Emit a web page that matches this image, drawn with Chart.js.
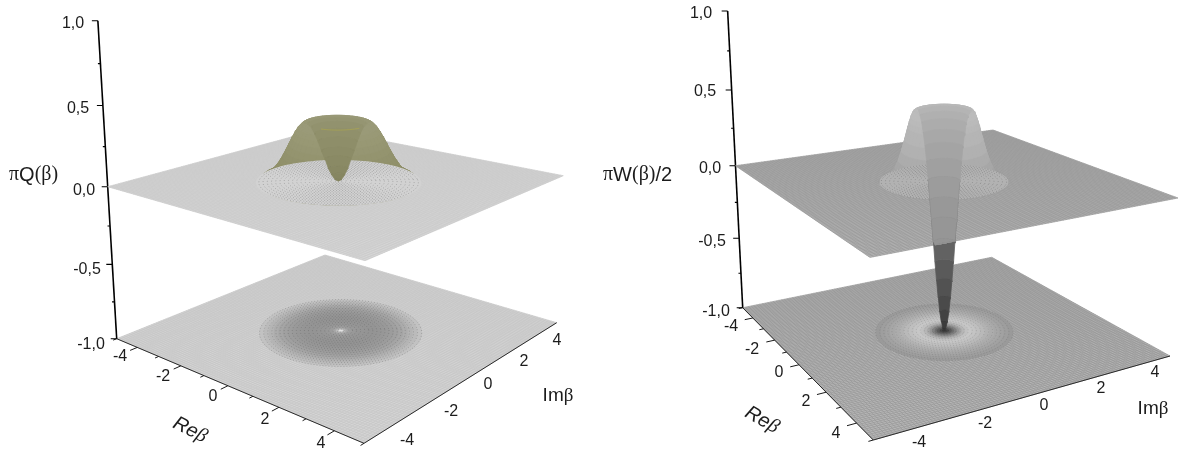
<!DOCTYPE html>
<html><head><meta charset="utf-8">
<style>html,body{margin:0;padding:0;background:#fff;overflow:hidden}canvas{position:absolute;top:0}</style>
<script src="https://cdn.jsdelivr.net/npm/chart.js@4"></script>
</head><body>
<canvas id="left" width="590" height="454" style="left:0"></canvas>
<canvas id="right" width="589" height="454" style="left:590px"></canvas>
<script>
// ---- data ----
const reTicks = [-5,-4,-3,-2,-1,0,1,2,3,4,5];
const imTicks = [-5,-4,-3,-2,-1,0,1,2,3,4,5];
const zTicks = [-1,-0.75,-0.5,-0.25,0,0.25,0.5,0.75,1];
const zLabels = ['-1,0','-0,5','0,0','0,5','1,0'];
const axisLabels = ['-4','-2','0','2','4'];

const qRadius = [0,0.1,0.2,0.3,0.4,0.5,0.6,0.7,0.8,0.9,1,1.1,1.2,1.3,1.4,1.5,1.6,1.7,1.8,1.9,2,2.1,2.2,2.3,2.4,2.5];
const qValue  = [0,0.01,0.04,0.08,0.14,0.19,0.25,0.3,0.34,0.36,0.37,0.36,0.34,0.31,0.275,0.237,0.198,0.161,0.127,0.098,0.073,0.054,0.038,0.027,0.018,0];
const qFloorRadius = [2.6,2.45,2.3,2.15,2,1.85,1.7,1.55,1.4,1.25,1.1,0.95,0.8,0.65,0.5,0.38,0.26,0.16,0.08];

const wRadius = [0,0.05,0.1,0.15,0.2,0.25,0.3,0.35,0.4,0.45,0.5,0.55,0.6,0.65,0.7,0.75,0.8,0.85,0.9,0.95,1,1.05,1.1,1.2,1.3,1.4,1.5,1.6,1.7,1.8,1.9,2];
const wValue  = [-1,-0.985,-0.94,-0.87,-0.775,-0.66,-0.535,-0.4,-0.26,-0.13,0,0.115,0.215,0.295,0.36,0.405,0.435,0.445,0.443,0.43,0.405,0.375,0.34,0.265,0.195,0.135,0.09,0.055,0.033,0.019,0.01,0];
const wFloorRadius = [2.2,2.05,1.9,1.75,1.6,1.45,1.3,1.15,1,0.88,0.76,0.66,0.56,0.48,0.4,0.32,0.24,0.16,0.08];

// ---- styles ----
const qBandColor = ['#84845f','#868661','#888863','#8a8a65','#8c8c67','#8e8e69','#90906b','#92926e','#959572','#989876',
  '#9a9a79','#9a9a78','#999976','#989874','#969672','#94946f','#92926d','#91916b','#90906a','#8f8f69','#8e8e68','#8d8d67','#8c8c66','#8b8b65','#8a8a64'];
const wBandGray = [148,148,148,148,148,148,148,150,152,156,160,164,168,172,176,180,184,187,188,188,186,184,181,177,172,167,163,159,156,154,152];
const wTubeGray = [54,60,66,74,82,90,98,104,108,112];
const qFloorGray = [194,187,180,172,165,160,156,153,151,149,148,148,149,150,152,156,166,186,226];
const wFloorGray = [154,158,162,167,172,178,185,191,196,199,193,182,168,150,130,110,90,72,56];

const views = {
  left: {
    xMin:0, xMax:590,
    floor:[[116.7,338.7],[364,443.3],[556.7,322.7],[325,255]],
    upper:[[107.7,186.7],[365,260.7],[563.3,175.7],[321,129]],
    persp:0.044,
    planeUpper:'#d8d8d8', meshUpper:'#cacaca',
    planeFloor:'#d4d4d4', meshFloor:'#c6c6c6',
    discFill:'#d2d2d2', discRadius:2.55, speckle:'rgba(90,90,90,0.45)',
    floorSpeckle:'rgba(70,70,70,0.4)',
    radius:qRadius, value:qValue, bandColor:i=>qBandColor[i],
    floorRadius:qFloorRadius, floorGray:qFloorGray,
    crestArc:'rgba(178,172,70,0.55)', tubeGray:null,
    zPos:[[91,345],[87,270],[84,191],[78,109],[73,24]],
    rePos:[[120,357],[163,377],[213,397],[265,420],[321,444]],
    imPos:[[407,441],[451,412],[488,385],[524,362],[557,341]],
    reTitle:[190,430,27], imTitle:[558,396],
    zTitle:{x:9,y:175,runs:[['π','serif'],['Q','sans'],['(','serif'],['β','serif'],[')','serif']]}
  },
  right: {
    xMin:590, xMax:1179,
    floor:[[742.7,307.7],[873.3,440],[1170,356],[991.7,257.3]],
    upper:[[735.5,165.7],[870,257.4],[1178,198],[993,130]],
    persp:0.043,
    planeUpper:'#b8b8b8', meshUpper:'#999999',
    planeFloor:'#b6b6b6', meshFloor:'#979797',
    discFill:'#b2b2b2', discRadius:2.0, speckle:'rgba(85,85,85,0.45)',
    floorSpeckle:'rgba(60,60,60,0.25)',
    radius:wRadius, value:wValue, bandColor:i=>`rgb(${wBandGray[i]},${wBandGray[i]},${wBandGray[i]})`,
    floorRadius:wFloorRadius, floorGray:wFloorGray,
    crestArc:null, tubeGray:wTubeGray,
    zPos:[[716,312],[712,242],[710,169],[705,92],[701,14]],
    rePos:[[731,327],[752,350],[779,373],[806,402],[836,434]],
    imPos:[[919,443],[985,424],[1044,406],[1101,389],[1155,373]],
    reTitle:[762,420,30], imTitle:[1153,409],
    zTitle:{x:603,y:175,runs:[['π','serif'],['W','sans'],['(','serif'],['β','serif'],[')','serif'],['/2','sans']]}
  }
};

const SANS = '"Liberation Sans", Arial, sans-serif';
const SERIF = '"Liberation Serif", "Times New Roman", serif';
const INK = '#1c1c1c';

function homography(q){
  const [p0,p1,p2,p3]=q;
  const sx=p0[0]-p1[0]+p2[0]-p3[0], sy=p0[1]-p1[1]+p2[1]-p3[1];
  const dx1=p1[0]-p2[0], dx2=p3[0]-p2[0], dy1=p1[1]-p2[1], dy2=p3[1]-p2[1];
  const den=dx1*dy2-dx2*dy1;
  const g=(sx*dy2-dx2*sy)/den, h=(dx1*sy-sx*dy1)/den;
  const a=p1[0]-p0[0]+g*p1[0], b=p3[0]-p0[0]+h*p3[0], c=p0[0];
  const d=p1[1]-p0[1]+g*p1[1], e=p3[1]-p0[1]+h*p3[1], f=p0[1];
  return (u,v)=>{const w=g*u+h*v+1;return [(a*u+b*v+c)/w,(d*u+e*v+f)/w];};
}

function buildPanel(view){
  const hF=homography(view.floor), hU=homography(view.upper);
  const project=(re,im,z)=>{
    const u=(re+5)/10, v=(im+5)/10, t=(z+1)/(1-view.persp*z);
    const a=hF(u,v), b=hU(u,v);
    return {x:a[0]+(b[0]-a[0])*t, y:a[1]+(b[1]-a[1])*t};
  };
  const polar=(r,deg,z)=>{
    const p=deg*Math.PI/180, c=Math.cos(p), s=Math.sin(p);
    return project(r*(c-s)/Math.SQRT2, r*(c+s)/Math.SQRT2, z);
  };
  const gap={x:NaN,y:NaN};
  const layers=[];
  const shape=(data,color,border)=>layers.push({data:[...data,data[0]],fill:'shape',backgroundColor:color,
      borderColor:color,borderWidth:border||0});
  const stroke=(data,color,width,dash)=>layers.push({data,fill:false,borderColor:color,borderWidth:width,borderDash:dash||[]});

  const corners=z=>[project(-5,-5,z),project(5,-5,z),project(5,5,z),project(-5,5,z)];
  const mesh=(z,color)=>{
    for(let i=0;i<=100;i++){
      const a=-5+i/10;
      stroke([project(a,-5,z),project(a,5,z)],color,0.7);
      stroke([project(-5,a,z),project(5,a,z)],color,0.7);
    }
  };
  const circle=(r,z,from,to,step)=>{
    const pts=[];
    for(let d=from;d<=to+1e-6;d+=step) pts.push(polar(r,d,z));
    return pts;
  };
  const speckleRings=(rMax,z,color,width)=>{
    for(let r=0.12;r<rMax;r+=0.13) stroke(circle(r,z,0,360,3),color,width,[1,2]);
  };

  // floor
  shape(corners(-1),view.planeFloor);
  mesh(-1,view.meshFloor);
  view.floorRadius.forEach((r,i)=>{
    const g=view.floorGray[i];
    shape(circle(r,-1,0,357,3),`rgb(${g},${g},${g})`);
  });
  speckleRings(view.floorRadius[0],-1,view.floorSpeckle,0.7);

  // floor axes
  const edges=[project(-5,-5,-1),project(5,-5,-1),project(5,5,-1)];
  stroke(edges,'#2a2a2a',1);
  const ticks=[];
  reTicks.forEach(t=>{const l=(t%2===0)?0.28:0.14; ticks.push(project(t,-5,-1),project(t,-5-l,-1),gap);});
  imTicks.forEach(t=>{const l=(t%2===0)?0.28:0.14; ticks.push(project(5,t,-1),project(5+l,t,-1),gap);});
  stroke(ticks,'#1a1a1a',1);

  // vertical axis
  stroke([project(-5,-5,1),project(-5,-5,-1)],'#000',1.6);
  const zt=[];
  zTicks.forEach(z=>{
    const p=project(-5,-5,z), major=Math.abs(z*2-Math.round(z*2))<1e-9, l=major?6:2.5;
    zt.push(p,{x:p.x-l,y:p.y},gap);
  });
  stroke(zt,'#000',1.1);

  // upper plane
  shape(corners(0),view.planeUpper);
  mesh(0,view.meshUpper);

  // outer wall of the surface, outside in, one cell per sector
  const R=view.radius, V=view.value;
  const crest=V.indexOf(Math.max(...V));
  const F=project(5,-5,0), E=project(5,5,0);
  const clampToEdge=p=>({x:p.x,y:Math.min(p.y,F.y+(E.y-F.y)*(p.x-F.x)/(E.x-F.x))});
  const band=(i,from,to,color,clamp)=>{
    const outer=[],inner=[];
    for(let d=from;d<=to;d+=4){ outer.push(polar(R[i+1],d,V[i+1])); inner.push(polar(R[i],d,V[i])); }
    let pts=[...outer,...inner.reverse()];
    if(clamp) pts=pts.map(clampToEdge);
    shape(pts,color,0.8);
  };
  for(let i=R.length-2;i>=crest;i--){
    for(let d=0;d<360;d+=8){
      shape([polar(R[i+1],d,V[i+1]),polar(R[i+1],d+8,V[i+1]),polar(R[i],d+8,V[i]),polar(R[i],d,V[i])],view.bandColor(i),0.8);
    }
  }

  // flat ring on the plane, in front of the wall
  shape(circle(view.discRadius,0,0,357,3),view.discFill);
  speckleRings(view.discRadius,0,view.speckle,0.8);

  // back half of the funnel, over the ring
  if(view.tubeGray) view.tubeGray.forEach((g,i)=>band(i,0,180,`rgb(${g},${g},${g})`,false));
  for(let i=crest-1;i>=0;i--) band(i,0,180,view.bandColor(i),!!view.tubeGray);
  if(view.crestArc) stroke(circle(R[crest],V[crest],-125,-55,5),view.crestArc,1);

  return layers.map(l=>Object.assign({showLine:true,pointRadius:0,pointHitRadius:0,spanGaps:false,tension:0,
     parsing:false,normalized:true,clip:false},l)).reverse();
}

function labelPlugin(view){
  return {id:'labels',afterDraw(chart){
    const {ctx,scales:{x,y}}=chart;
    const px=a=>x.getPixelForValue(a), py=a=>y.getPixelForValue(a);
    ctx.save();
    ctx.fillStyle=INK; ctx.textAlign='center'; ctx.textBaseline='middle';
    ctx.font='16px '+SANS;
    zLabels.forEach((t,i)=>ctx.fillText(t,px(view.zPos[i][0]),py(view.zPos[i][1])));
    axisLabels.forEach((t,i)=>{
      ctx.fillText(t,px(view.rePos[i][0]),py(view.rePos[i][1]));
      ctx.fillText(t,px(view.imPos[i][0]),py(view.imPos[i][1]));
    });
    ctx.textAlign='left';
    const fontOf=(k,size,it)=>(it?'italic ':'')+size+'px '+(k==='serif'?SERIF:SANS);
    const runs=(list,x0,y0,size,it)=>{let cx=x0;list.forEach(([t,k])=>{ctx.font=fontOf(k,size,it);ctx.fillText(t,cx,y0);cx+=ctx.measureText(t).width;});};
    const width=(list,size,it)=>list.reduce((s,[t,k])=>{ctx.font=fontOf(k,size,it);return s+ctx.measureText(t).width;},0);
    const imRuns=[['Im','sans'],['β','serif']];
    runs(imRuns,px(view.imTitle[0])-width(imRuns,19)/2,py(view.imTitle[1]),19,false);
    runs(view.zTitle.runs,px(view.zTitle.x),py(view.zTitle.y),20,false);
    const reRuns=[['Re','sans'],['β','serif']];
    ctx.save();
    ctx.translate(px(view.reTitle[0]),py(view.reTitle[1]));
    ctx.rotate(view.reTitle[2]*Math.PI/180);
    runs(reRuns,-width(reRuns,20,true)/2,0,20,true);
    ctx.restore();
    ctx.restore();
  }};
}

function draw(id,view){
  new Chart(document.getElementById(id),{
    type:'scatter',
    data:{datasets:buildPanel(view)},
    options:{
      responsive:false,animation:false,events:[],
      layout:{padding:0},
      plugins:{legend:{display:false},tooltip:{enabled:false},title:{display:false}},
      scales:{
        x:{type:'linear',min:view.xMin,max:view.xMax,display:false},
        y:{type:'linear',min:0,max:454,reverse:true,display:false}
      }
    },
    plugins:[labelPlugin(view)]
  });
}
draw('left',views.left);
draw('right',views.right);
</script>
</body></html>
